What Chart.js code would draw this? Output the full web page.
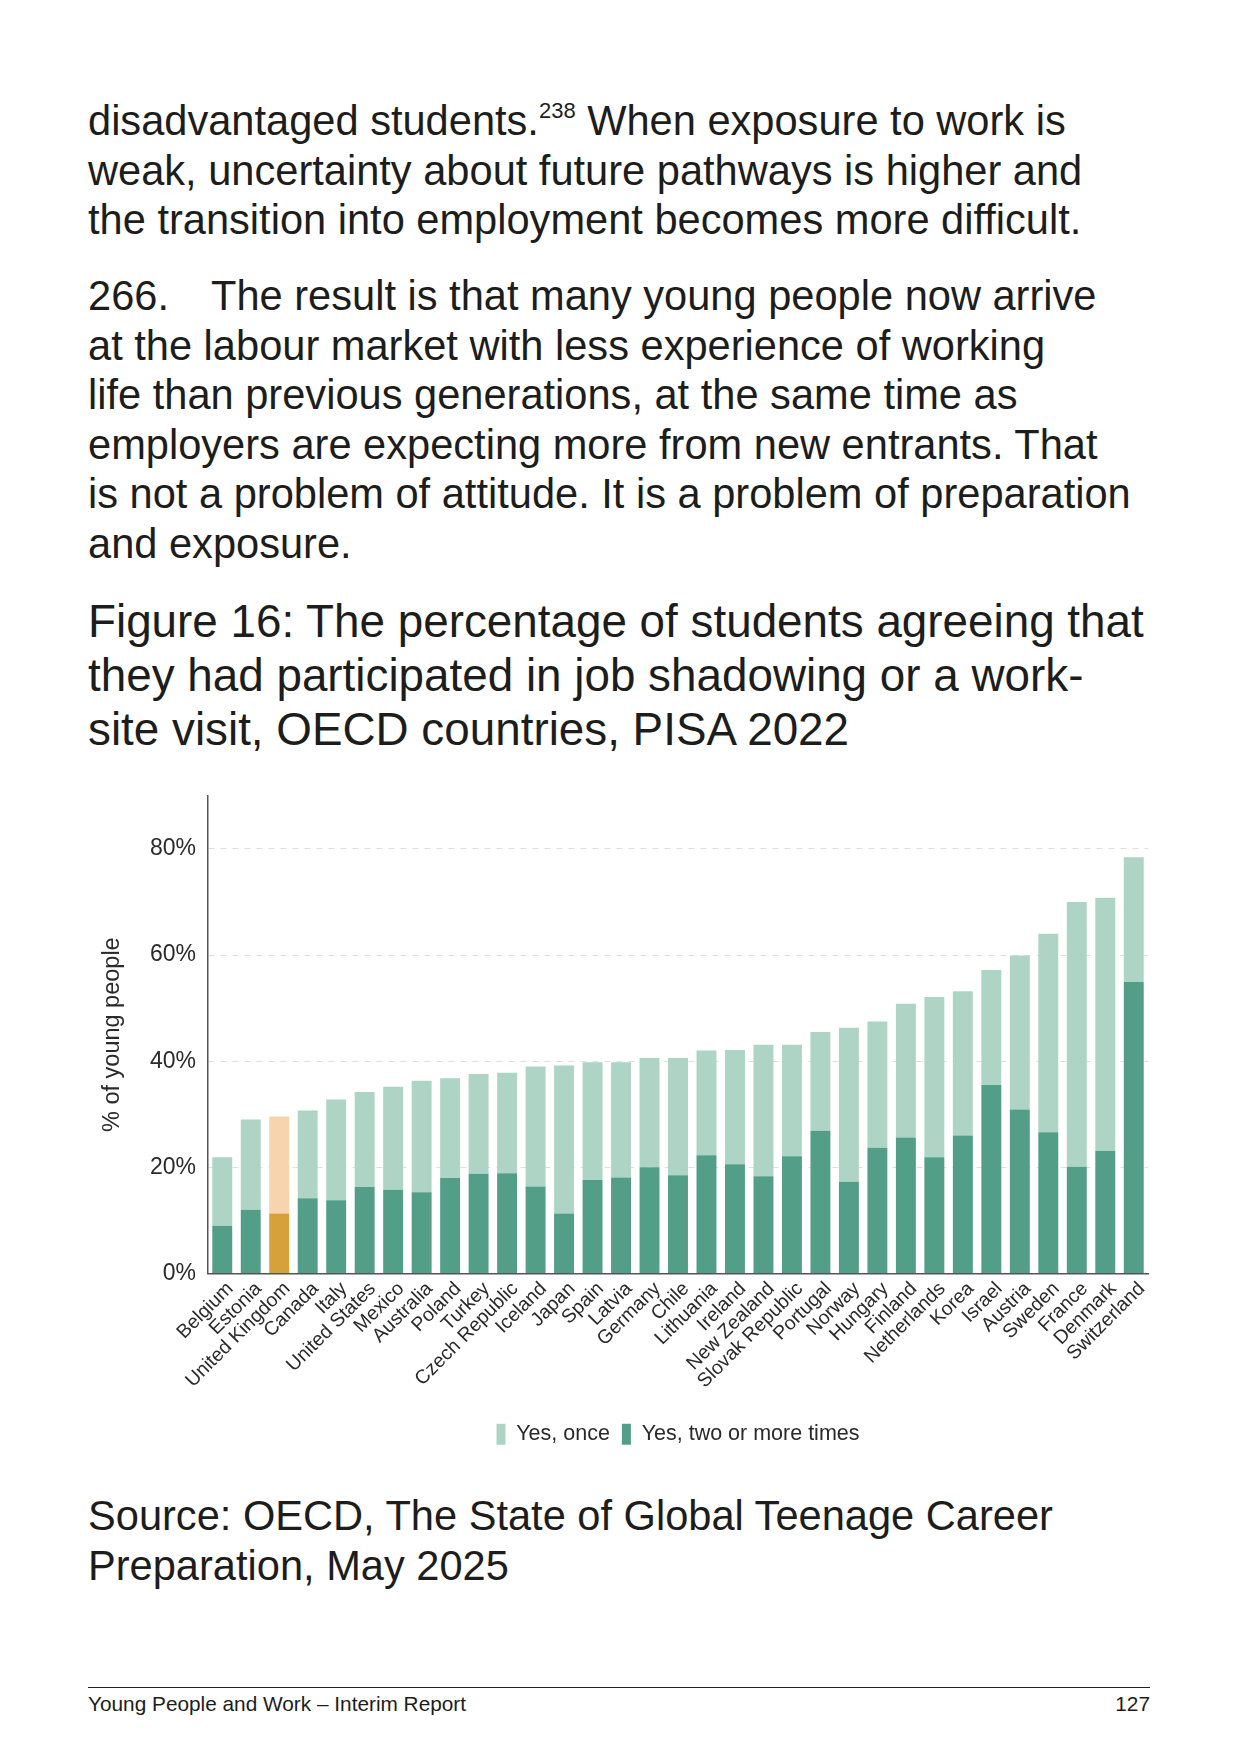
<!DOCTYPE html>
<html>
<head>
<meta charset="utf-8">
<script src="https://cdn.jsdelivr.net/npm/chart.js@4.4.0/dist/chart.umd.min.js"></script>
<style>
  html, body { margin: 0; padding: 0; background: #fff; }
  #page { position: relative; width: 1241px; height: 1754px; overflow: hidden;
          font-family: 'Liberation Sans', Arial, sans-serif; color: #1d1d1b; }
  .para { position: absolute; left: 88px; font-size: 41.6px; line-height: 49.6px; white-space: nowrap; }
  .fig-title { position: absolute; left: 88px; top: 595px; font-size: 45.8px; line-height: 54px; white-space: nowrap; }
  .num { display: inline-block; width: 123px; }
  sup { font-size: 22px; line-height: 0; vertical-align: 17px; }
  #chart-box { position: absolute; left: 88px; top: 770px; width: 1075px; height: 690px; }
  .rule { position: absolute; left: 88px; top: 1687px; width: 1062px; height: 0; border-top: 1.3px solid #222; }
  .footer { position: absolute; top: 1692px; font-size: 20.8px; line-height: 24px; white-space: nowrap; }
</style>
</head>
<body>
<div id="page">
  <div class="para" style="top:96px">
    disadvantaged students.<sup>238</sup> When exposure to work is<br>
    weak, uncertainty about future pathways is higher and<br>
    the transition into employment becomes more difficult.
  </div>
  <div class="para" style="top:271px">
    <span class="num">266.</span>The result is that many young people now arrive<br>
    at the labour market with less experience of working<br>
    life than previous generations, at the same time as<br>
    employers are expecting more from new entrants. That<br>
    is not a problem of attitude. It is a problem of preparation<br>
    and exposure.
  </div>
  <div class="fig-title">
    Figure 16: The percentage of students agreeing that<br>
    they had participated in job shadowing or a work-<br>
    site visit, OECD countries, PISA 2022
  </div>

  <div id="chart-box"><canvas id="chart"></canvas></div>

  <div class="para" style="top:1491px">
    Source: OECD, The State of Global Teenage Career<br>
    Preparation, May 2025
  </div>

  <div class="rule"></div>
  <div class="footer" style="left:88px">Young People and Work – Interim Report</div>
  <div class="footer" style="right:91px">127</div>
</div>

<script>
// countries, sorted by total share as in the figure
const countries = ['Belgium', 'Estonia', 'United Kingdom', 'Canada', 'Italy', 'United States',
  'Mexico', 'Australia', 'Poland', 'Turkey', 'Czech Republic', 'Iceland', 'Japan', 'Spain',
  'Latvia', 'Germany', 'Chile', 'Lithuania', 'Ireland', 'New Zealand', 'Slovak Republic',
  'Portugal', 'Norway', 'Hungary', 'Finland', 'Netherlands', 'Korea', 'Israel', 'Austria',
  'Sweden', 'France', 'Denmark', 'Switzerland'];

// % saying "Yes, two or more times" (bottom segment)
const twoOrMore = [9.0, 12.0, 11.3, 14.2, 13.8, 16.3, 15.8, 15.3, 18.0, 18.8, 18.9, 16.4, 11.3,
  17.6, 18.1, 20.0, 18.5, 22.3, 20.6, 18.3, 22.1, 26.9, 17.3, 23.7, 25.6, 21.9, 26.0, 35.5,
  30.9, 26.6, 20.1, 23.1, 54.9];

// % saying "Yes, once" (top segment)
const once = [12.9, 17.0, 18.3, 16.5, 19.0, 17.9, 19.4, 21.0, 18.8, 18.8, 18.9, 22.6, 27.9,
  22.2, 21.7, 20.6, 22.1, 19.7, 21.5, 24.8, 21.0, 18.6, 29.0, 23.8, 25.2, 30.2, 27.2, 21.7,
  29.0, 37.4, 49.9, 47.7, 23.5];

const yTicks = [0, 20, 40, 60, 80];
const highlight = 'United Kingdom';

const ukIndex = countries.indexOf(highlight);
const darkColour = (i) => i === ukIndex ? '#d6a13b' : '#539e87';
const lightColour = (i) => i === ukIndex ? '#f8d4ae' : '#aed4c5';
const textColour = '#2a2a2a';
const chartFont = "'Liberation Sans', Arial, sans-serif";

const ctx = document.getElementById('chart').getContext('2d');

new Chart(ctx, {
  type: 'bar',
  data: {
    labels: countries,
    datasets: [
      {
        label: 'Yes, two or more times',
        data: twoOrMore,
        backgroundColor: (c) => darkColour(c.dataIndex)
      },
      {
        label: 'Yes, once',
        data: once,
        backgroundColor: (c) => lightColour(c.dataIndex)
      }
    ]
  },
  options: {
    responsive: true,
    maintainAspectRatio: false,
    animation: false,
    layout: { padding: { top: 24, right: 15, bottom: 5, left: 0 } },
    datasets: {
      bar: { barPercentage: 0.7, categoryPercentage: 1.0, borderWidth: 0 }
    },
    plugins: {
      tooltip: { enabled: false },
      legend: {
        position: 'bottom',
        fullSize: false,
        labels: {
          boxWidth: 9,
          boxHeight: 21,
          padding: 12,
          color: textColour,
          font: { family: chartFont, size: 21.5 },
          // light series first, as in the original key
          sort: (a, b) => b.datasetIndex - a.datasetIndex
        }
      }
    },
    scales: {
      x: {
        stacked: true,
        grid: { display: false, drawTicks: false },
        border: { color: '#555', width: 1.5 },
        ticks: {
          autoSkip: false,
          minRotation: 45,
          maxRotation: 45,
          padding: 4,
          labelOffset: 8,
          color: textColour,
          font: { family: chartFont, size: 19.5 }
        },
        afterFit: (scale) => { scale.height = 138; }
      },
      y: {
        stacked: true,
        min: 0,
        max: 90,
        afterBuildTicks: (scale) => { scale.ticks = yTicks.map(v => ({ value: v })); },
        border: { color: '#555', width: 1.5, dash: [6, 6] },
        grid: {
          drawTicks: false,
          color: (c) => (c.tick && c.tick.value === 0) ? 'rgba(0,0,0,0)' : '#dedede'
        },
        ticks: {
          padding: 12,
          color: textColour,
          font: { family: chartFont, size: 23 },
          callback: (v) => v + '%'
        },
        title: {
          display: true,
          text: '% of young people',
          color: textColour,
          padding: { top: 10, bottom: 0 },
          font: { family: chartFont, size: 23.5 }
        },
        afterFit: (scale) => { scale.width = 120; }
      }
    }
  }
});
</script>
</body>
</html>
